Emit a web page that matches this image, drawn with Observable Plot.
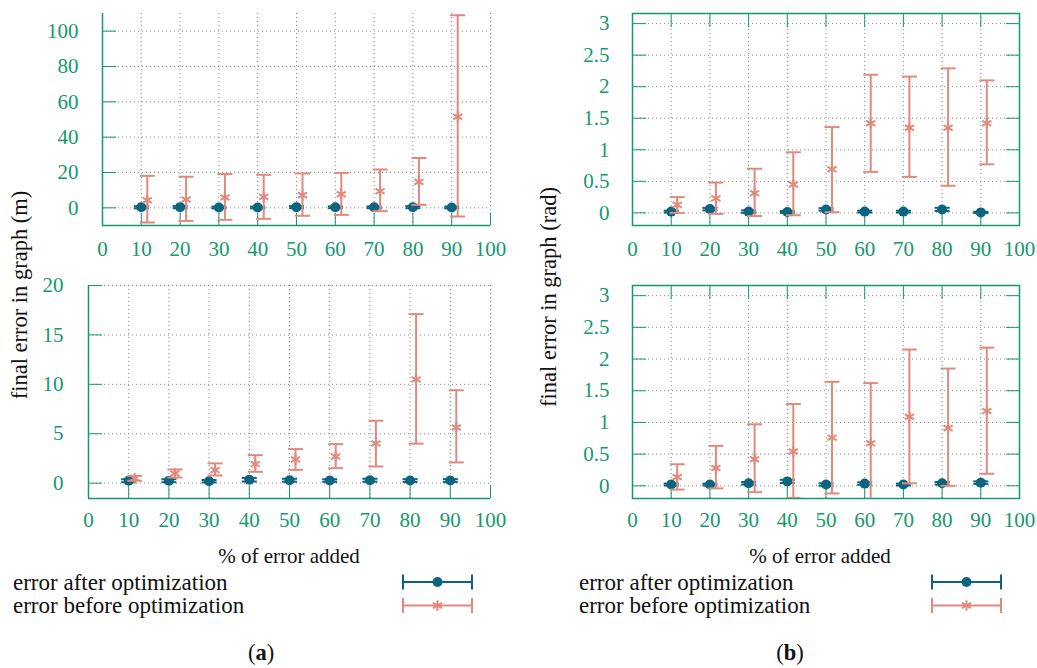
<!DOCTYPE html>
<html><head><meta charset="utf-8">
<script src="https://cdn.jsdelivr.net/npm/d3@7"></script>
<script src="https://cdn.jsdelivr.net/npm/@observablehq/plot@0.6"></script>
<style>
html,body{margin:0;padding:0;background:#fff;}
#root{position:relative;width:1037px;height:668px;overflow:hidden;font-family:"Liberation Serif","DejaVu Serif","Times New Roman",serif;}
.panel{position:absolute;}
#overlay{position:absolute;left:0;top:0;pointer-events:none;}
svg text{font-family:"Liberation Serif","DejaVu Serif","Times New Roman",serif;}
</style></head><body><div id="root"></div>
<script>
// ---- data ----
const levels = [10, 20, 30, 40, 50, 60, 70, 80, 90];
const xTicks = [0, 10, 20, 30, 40, 50, 60, 70, 80, 90, 100];
const yTicksMeters1 = [0, 20, 40, 60, 80, 100];
const yTicksMeters2 = [0, 5, 10, 15, 20];
const yTicksRad = [0, 0.5, 1, 1.5, 2, 2.5, 3];

// (a) top: position error (m)
const aTopAfterMean = [0.3, 0.4, 0.2, 0.2, 0.4, 0.3, 0.3, 0.4, 0.2];
const aTopAfterErr  = [0.6, 0.6, 0.5, 0.5, 0.6, 0.5, 0.5, 0.6, 0.5];
const aTopBeforeMean = [4.3, 4.7, 5.9, 6.2, 7.2, 7.7, 9.4, 14.7, 51.6];
const aTopBeforeLo   = [-8.3, -7.4, -6.8, -6.2, -4.5, -4.0, -1.9, 1.7, -4.9];
const aTopBeforeHi   = [18.1, 17.6, 19.1, 18.7, 19.5, 19.8, 21.7, 28.2, 109];

// (a) bottom: position error (m)
const aBotAfterMean = [0.25, 0.25, 0.2, 0.35, 0.3, 0.27, 0.3, 0.27, 0.27];
const aBotAfterErr  = [0.15, 0.15, 0.12, 0.18, 0.15, 0.13, 0.15, 0.14, 0.14];
const aBotBeforeMean = [0.5, 0.98, 1.32, 1.93, 2.4, 2.7, 4.02, 10.5, 5.64];
const aBotBeforeLo   = [0.25, 0.57, 0.78, 1.15, 1.35, 1.52, 1.69, 4.0, 2.1];
const aBotBeforeHi   = [0.74, 1.39, 2.0, 2.84, 3.45, 3.95, 6.32, 17.1, 9.4];

// (b) top: orientation error (rad)
const bTopAfterMean = [0.02, 0.06, 0.02, 0.015, 0.055, 0.02, 0.02, 0.055, 0.008];
const bTopAfterErr  = [0.015, 0.02, 0.02, 0.015, 0.02, 0.015, 0.015, 0.025, 0.01];
const bTopBeforeMean = [0.127, 0.23, 0.31, 0.45, 0.69, 1.42, 1.35, 1.35, 1.42];
const bTopBeforeLo   = [0.0, -0.016, -0.05, -0.037, 0.01, 0.65, 0.57, 0.43, 0.77];
const bTopBeforeHi   = [0.25, 0.48, 0.70, 0.96, 1.36, 2.19, 2.16, 2.29, 2.10];

// (b) bottom: orientation error (rad)
const bBotAfterMean = [0.02, 0.02, 0.04, 0.07, 0.02, 0.035, 0.02, 0.04, 0.05];
const bBotAfterErr  = [0.015, 0.015, 0.02, 0.025, 0.02, 0.02, 0.015, 0.02, 0.02];
const bBotBeforeMean = [0.14, 0.28, 0.42, 0.54, 0.76, 0.67, 1.09, 0.91, 1.18];
const bBotBeforeLo   = [-0.06, -0.04, -0.10, -0.19, -0.12, -0.28, 0.04, 0.0, 0.19];
const bBotBeforeHi   = [0.34, 0.63, 0.97, 1.29, 1.64, 1.62, 2.15, 1.85, 2.18];

const seriesNames = ["error after optimization", "error before optimization"];

// ---- styles ----
const FONT = "'Liberation Serif', 'DejaVu Serif', 'Times New Roman', serif";
const green = "#14996f";
const blue = "#0c6580";
const red = "#e08a7e";
const gridColor = "#8a8a8a";
const tickFont = 21;
const titleFont = 21;
const yTitleFont = 22.5;
const legendFont = 23;

const capSymbol = {draw(ctx, size) { const w = Math.sqrt(size / Math.PI); ctx.moveTo(-w, 0); ctx.lineTo(w, 0); }};

const root = document.getElementById("root");

function panel(cfg) {
  const after = levels.map((x, i) => ({x, y: cfg.afterMean[i], lo: cfg.afterMean[i] - cfg.afterErr[i], hi: cfg.afterMean[i] + cfg.afterErr[i]}));
  const before = levels.map((x, i) => ({x, y: cfg.beforeMean[i], lo: cfg.beforeLo[i], hi: cfg.beforeHi[i]}));
  const fmt = d => String(d);
  const marks = [
    Plot.gridX(xTicks.slice(1), {stroke: gridColor, strokeOpacity: 1, strokeDasharray: "1,3"}),
    Plot.gridY(cfg.yTicks, {stroke: gridColor, strokeOpacity: 1, strokeDasharray: "1,3"}),
  ];
  if (cfg.box) {
    marks.push(Plot.frame({stroke: green, strokeWidth: 1.5}));
  } else {
    marks.push(Plot.ruleX([0], {stroke: green, strokeWidth: 1.5}));
    marks.push(Plot.ruleY([cfg.yDomain[0]], {stroke: green, strokeWidth: 1.5}));
  }
  marks.push(
    Plot.axisX(xTicks, {anchor: "bottom", tickSize: 12, dy: -12, tickFormat: () => "", color: green, label: null}),
    Plot.axisY(cfg.yTicks, {anchor: "left", tickSize: 14, dx: 14, tickFormat: () => "", color: green, label: null}),
    Plot.axisX(xTicks, {anchor: "bottom", tickSize: 0, tickPadding: cfg.xPad, tickFormat: fmt, color: green, fontSize: tickFont, fontFamily: FONT, label: null}),
    Plot.axisY(cfg.yTicks, {anchor: "left", tickSize: 0, tickPadding: cfg.yPad, tickFormat: fmt, color: green, fontSize: tickFont, fontFamily: FONT, label: null})
  );
  if (cfg.box) {
    marks.push(
      Plot.axisX(xTicks, {anchor: "top", tickSize: 13, dy: 13, tickFormat: () => "", color: green, label: null}),
      Plot.axisY(cfg.yTicks, {anchor: "right", tickSize: 14, dx: -14, tickFormat: () => "", color: green, label: null})
    );
  }
  marks.push(
    Plot.ruleX(after, {x: "x", y1: "lo", y2: "hi", stroke: blue, strokeWidth: 2, clip: true}),
    Plot.dot(after, {x: "x", y: "lo", symbol: capSymbol, r: 7.5, fill: "none", stroke: blue, strokeWidth: 2, clip: true}),
    Plot.dot(after, {x: "x", y: "hi", symbol: capSymbol, r: 7.5, fill: "none", stroke: blue, strokeWidth: 2, clip: true}),
    Plot.dot(after, {x: "x", y: "y", symbol: "circle", r: 5, fill: blue, stroke: "none"}),
    Plot.ruleX(before, {x: "x", y1: "lo", y2: "hi", dx: 6, stroke: red, strokeWidth: 2, clip: true}),
    Plot.dot(before, {x: "x", y: "lo", dx: 6, symbol: capSymbol, r: 7.5, fill: "none", stroke: red, strokeWidth: 2, clip: true}),
    Plot.dot(before, {x: "x", y: "hi", dx: 6, symbol: capSymbol, r: 7.5, fill: "none", stroke: red, strokeWidth: 2, clip: true}),
    Plot.dot(before, {x: "x", y: "y", dx: 6, symbol: "asterisk", r: 5, fill: "none", stroke: red, strokeWidth: 2})
  );
  const svg = Plot.plot({
    width: cfg.width, height: cfg.height,
    marginLeft: cfg.ml, marginRight: cfg.mr, marginTop: cfg.mt, marginBottom: cfg.mb,
    x: {domain: [0, 100]},
    y: {domain: cfg.yDomain},
    style: {fontFamily: FONT, background: "transparent", overflow: "visible"},
    marks
  });
  const div = document.createElement("div");
  div.className = "panel";
  div.style.left = cfg.left + "px";
  div.style.top = cfg.top + "px";
  div.appendChild(svg);
  root.appendChild(div);
}

panel({left: 0, top: 0, width: 520, height: 270, ml: 102, mr: 30, mt: 13, mb: 45,
  yDomain: [-10, 110], yTicks: yTicksMeters1, box: false, xPad: 16, yPad: 24,
  afterMean: aTopAfterMean, afterErr: aTopAfterErr, beforeMean: aTopBeforeMean, beforeLo: aTopBeforeLo, beforeHi: aTopBeforeHi});
panel({left: 0, top: 270, width: 520, height: 260, ml: 88, mr: 30, mt: 15, mb: 32,
  yDomain: [-1.55, 20], yTicks: yTicksMeters2, box: false, xPad: 14, yPad: 25,
  afterMean: aBotAfterMean, afterErr: aBotAfterErr, beforeMean: aBotBeforeMean, beforeLo: aBotBeforeLo, beforeHi: aBotBeforeHi});
panel({left: 520, top: 0, width: 517, height: 270, ml: 112, mr: 18, mt: 13, mb: 45,
  yDomain: [-0.2, 3.16], yTicks: yTicksRad, box: true, xPad: 16, yPad: 23,
  afterMean: bTopAfterMean, afterErr: bTopAfterErr, beforeMean: bTopBeforeMean, beforeLo: bTopBeforeLo, beforeHi: bTopBeforeHi});
panel({left: 520, top: 270, width: 517, height: 260, ml: 112, mr: 18, mt: 15, mb: 32,
  yDomain: [-0.2, 3.16], yTicks: yTicksRad, box: true, xPad: 14, yPad: 23,
  afterMean: bBotAfterMean, afterErr: bBotAfterErr, beforeMean: bBotBeforeMean, beforeLo: bBotBeforeLo, beforeHi: bBotBeforeHi});

// ---- overlay: titles, legends, captions ----
const ov = d3.select(root).append("svg").attr("id", "overlay").attr("width", 1037).attr("height", 668)
  .attr("font-family", FONT);

function ytitle(x, y, s) {
  ov.append("text").attr("transform", `translate(${x},${y}) rotate(-90)`).attr("text-anchor", "middle")
    .attr("font-size", yTitleFont).attr("font-family", FONT).attr("fill", "#111").text(s);
}
ytitle(27, 295, "final error in graph (m)");
ytitle(556, 297, "final error in graph (rad)");

function xtitle(x, y, s) {
  ov.append("text").attr("x", x).attr("y", y).attr("text-anchor", "middle").attr("font-size", titleFont)
    .attr("font-family", FONT).attr("fill", "#111").text(s);
}
xtitle(289, 563, "% of error added");
xtitle(820, 563, "% of error added");

function legend(tx, sx0, sx1) {
  const rows = [{name: seriesNames[0], color: blue, sym: "circle", y: 582, base: 590},
                {name: seriesNames[1], color: red, sym: "asterisk", y: 605.5, base: 613}];
  rows.forEach(r => {
    ov.append("text").attr("x", tx).attr("y", r.base).attr("font-size", legendFont).attr("font-family", FONT)
      .attr("fill", "#111").text(r.name);
    const g = ov.append("g").attr("stroke", r.color).attr("stroke-width", 2);
    g.append("line").attr("x1", sx0).attr("x2", sx1).attr("y1", r.y).attr("y2", r.y);
    g.append("line").attr("x1", sx0).attr("x2", sx0).attr("y1", r.y - 7.5).attr("y2", r.y + 7.5);
    g.append("line").attr("x1", sx1).attr("x2", sx1).attr("y1", r.y - 7.5).attr("y2", r.y + 7.5);
    const mx = (sx0 + sx1) / 2;
    if (r.sym === "circle") {
      g.append("circle").attr("cx", mx).attr("cy", r.y).attr("r", 5).attr("fill", r.color).attr("stroke", "none");
    } else {
      g.append("path").attr("transform", `translate(${mx},${r.y})`).attr("fill", "none")
        .attr("d", d3.symbol(d3.symbolAsterisk, 25 * Math.PI)());
    }
  });
}
legend(13, 403, 472);
legend(579, 932, 1001);

function caption(x, letter) {
  const t = ov.append("text").attr("x", x).attr("y", 660).attr("text-anchor", "middle").attr("font-size", yTitleFont)
    .attr("font-family", FONT).attr("fill", "#111");
  t.append("tspan").text("(");
  t.append("tspan").attr("font-weight", "bold").text(letter);
  t.append("tspan").text(")");
}
caption(261, "a");
caption(790, "b");
</script>
</body></html>
